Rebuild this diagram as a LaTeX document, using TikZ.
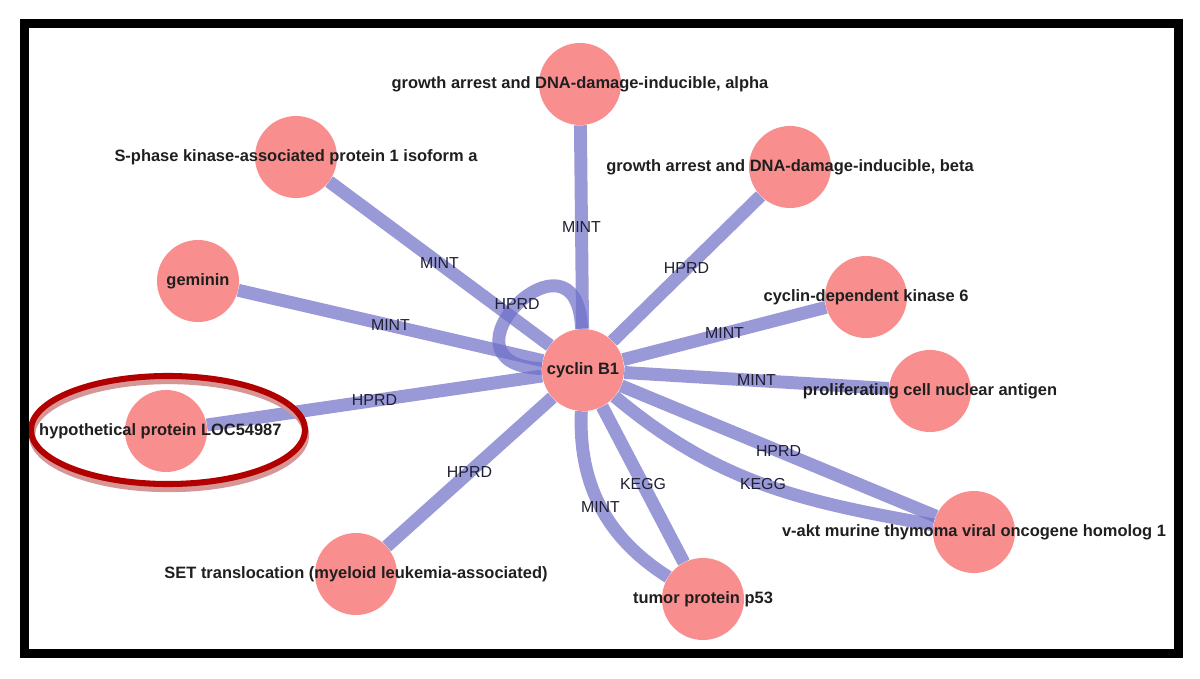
\documentclass[tikz,border=0pt]{standalone}
\usepackage{fontspec}
\setmainfont{Liberation Sans}
\usetikzlibrary{arrows}
\pgfdeclarelayer{background}
\pgfsetlayers{background,main}
\definecolor{nodepink}{RGB}{248,142,142}
\definecolor{linkblue}{RGB}{110,110,200}
\definecolor{markred}{RGB}{178,0,0}
\definecolor{markshade}{RGB}{214,150,150}
\definecolor{srctext}{RGB}{30,30,50}

\begin{document}
\begin{tikzpicture}[x=0.025cm,y=0.025cm]
        \tikzstyle{protein}=[circle,fill=nodepink,minimum size=2.05cm,inner sep=0pt]
        \tikzstyle{every label}=[text=black!88,font=\fontsize{11.7}{14}\selectfont\bfseries]
        \tikzstyle{link}=[draw=linkblue,draw opacity=0.7,line width=9.2pt]
        \tikzstyle{src}=[text=srctext,font=\fontsize{11.3}{13}\selectfont,inner sep=1pt]

        \useasboundingbox (0,0) rectangle (1200,678);

        \node[protein,label={center:cyclin B1}]  (CB1) at (583,308) { };
        \node[protein,label={center:growth arrest and DNA-damage-inducible, alpha}] (GA) at (580,594) { };
        \node[protein,label={center:S-phase kinase-associated protein 1 isoform a}] (SK) at (296,521) { };
        \node[protein,label={center:growth arrest and DNA-damage-inducible, beta}]  (GB) at (790,511) { };
        \node[protein,label={center:geminin}]    (GM) at (198,397) { };
        \node[protein,label={center:cyclin-dependent kinase 6}] (CK) at (866,381) { };
        \node[protein,label={center:proliferating cell nuclear antigen}] (PC) at (930,287) { };
        \node[protein,label={[xshift=-4pt]center:hypothetical protein LOC54987}] (HP) at (166,247) { };
        \node[protein,label={center:SET translocation (myeloid leukemia-associated)}] (ST) at (356,104) { };
        \node[protein,label={center:tumor protein p53}] (TP) at (703,79) { };
        \node[protein,label={center:v-akt murine thymoma viral oncogene homolog 1}] (VA) at (974,146) { };

        \begin{pgfonlayer}{background}
        \path[link]
                  (CB1) edge node [src]                       {MINT} (GA)
                        edge node [src]                       {MINT} (SK)
                        edge node [src]                       {HPRD} (GB)
                        edge node [src]                       {MINT} (GM)
                        edge node [src]                       {MINT} (CK)
                        edge node [src]                       {MINT} (PC)
                        edge node [src]                       {HPRD} (HP)
                        edge node [src]                       {HPRD} (ST)
                        edge node [src]                       {KEGG} (TP)
                        edge [bend right=30] node [src]       {MINT} (TP)
                        edge node [src]                       {HPRD} (VA)
                        edge [out=-40,in=170] node [src]      {KEGG} (VA)
                        edge [out=92,in=178,looseness=5.2] node [src] {HPRD} (CB1);
        \end{pgfonlayer}

        % mark round the hypothetical protein
        \draw[markshade,line width=4.5pt] ([shift={(3,-4)}]HP.center) ellipse [x radius=3.425cm,y radius=1.35cm];
        \draw[markred,line width=4.3pt]   ([shift={(2,1)}]HP.center)  ellipse [x radius=3.425cm,y radius=1.35cm];

        \draw[line width=6.4pt] (24,25) rectangle (1178.5,654.5);
\end{tikzpicture}
\end{document}
